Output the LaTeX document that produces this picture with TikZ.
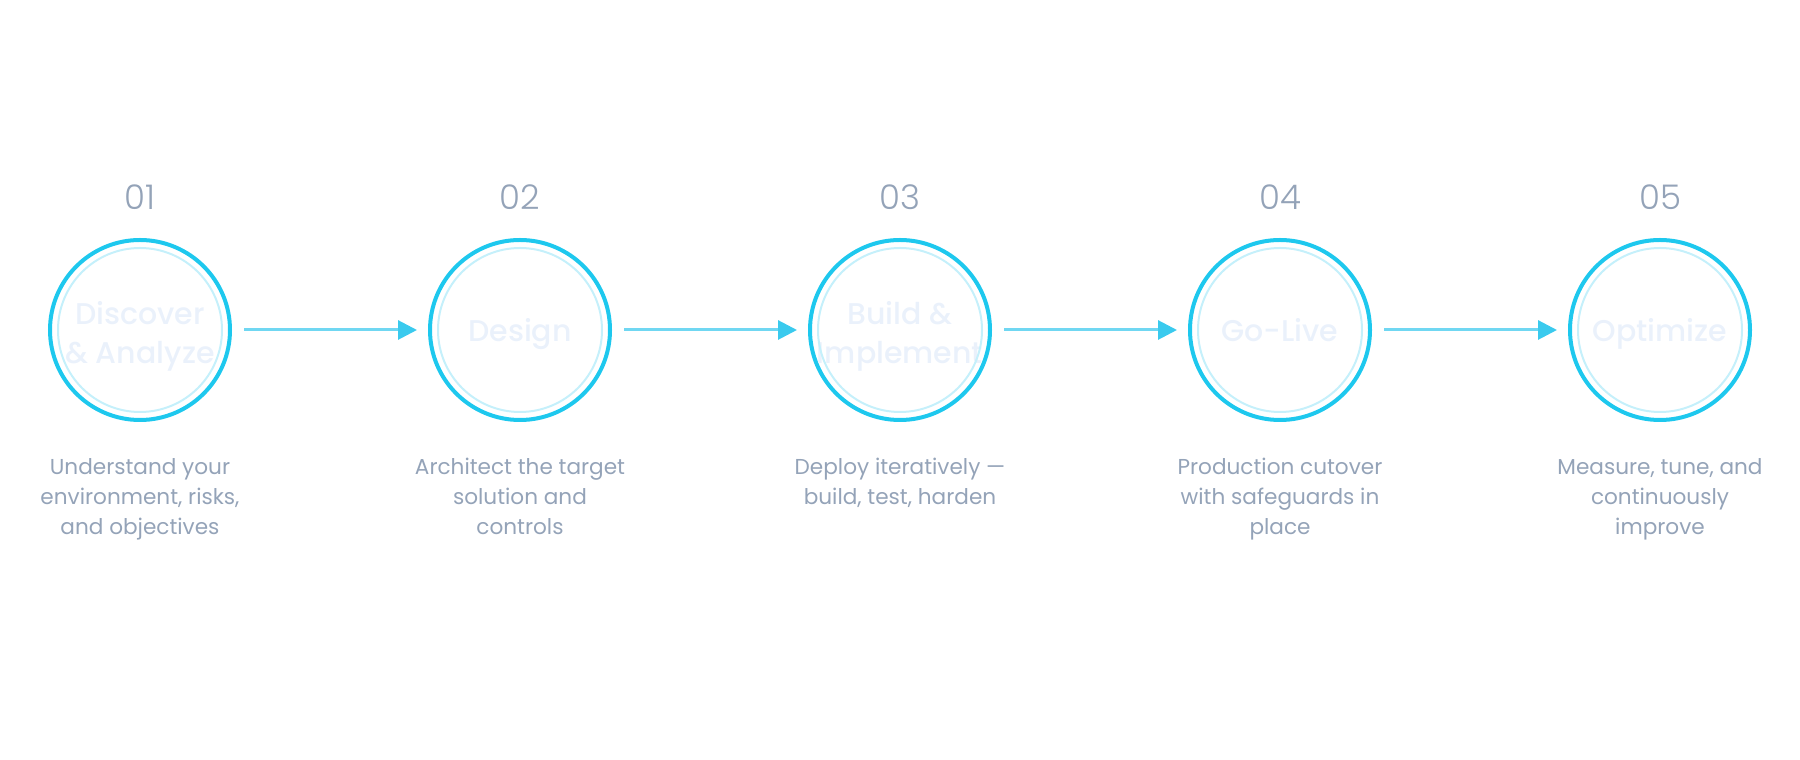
\documentclass[tikz,border=0pt]{standalone}
\usepackage{fontspec}
\setmainfont{Poppins}
\newfontfamily\numfont{Poppins Light}
\newfontfamily\labfont{Poppins Medium}
\usetikzlibrary{arrows.meta}
\definecolor{ringmain}{HTML}{1EC8EE}
\definecolor{ringinner}{HTML}{C5F0FB}
\definecolor{arrline}{HTML}{70D7F2}
\definecolor{arrhead}{HTML}{3ACAEE}
\definecolor{graytext}{HTML}{94A3B8}
\definecolor{labtext}{HTML}{EAF1FB}
\tikzset{
  stage/.style={circle, draw=ringmain, line width=4pt, minimum size=180pt, inner sep=0pt,
    font=\labfont\fontsize{30}{39}\selectfont, text=labtext, align=center, text depth=0pt},
  twoline/.style={label={[font=\labfont\fontsize{30}{39}\selectfont, text=labtext, align=center, text depth=0pt, inner sep=0pt, yshift=-2.5pt]center:#1}},
  innerring/.style={draw=ringinner, line width=2pt},
  stepnum/.style={font=\numfont\fontsize{34}{40}\selectfont, text=graytext, inner sep=0pt},
  desc/.style={font=\fontsize{21.6}{30}\selectfont, text=graytext, align=center, anchor=north, inner sep=0pt},
  flow/.style={arrline, line width=3pt, shorten <=12pt, shorten >=11pt,
    -{Triangle[length=19pt,width=19pt,color=arrhead]}}
}
\begin{document}
\begin{tikzpicture}[x=1pt,y=1pt]
\useasboundingbox (0,0) rectangle (1800,760);
% stages
\node[stage, twoline={Discover\\\& Analyze}] (c1) at (140,430) {};
\node[stage] (c2) at (520,430) {Design};
\node[stage, twoline={Build \&\\Implement}] (c3) at (900,430) {};
\node[stage] (c4) at (1280,430) {Go-Live};
\node[stage] (c5) at (1660,430) {Optimize};
\foreach \c in {c1,c2,c3,c4,c5}{\draw[innerring] (\c.center) circle (82pt);}
% numbers
\node[stepnum] (n1) at (140,563) {01};
\node[stepnum] (n2) at (520,563) {02};
\node[stepnum] (n3) at (900,563) {03};
\node[stepnum] (n4) at (1280,563) {04};
\node[stepnum] (n5) at (1660,563) {05};
% descriptions
\node[desc] (d1) at (140,302) {Understand your\\environment, risks,\\and objectives};
\node[desc] (d2) at (520,302) {Architect the target\\solution and\\controls};
\node[desc] (d3) at (900,302) {Deploy iteratively —\\build, test, harden};
\node[desc] (d4) at (1280,302) {Production cutover\\with safeguards in\\place};
\node[desc] (d5) at (1660,302) {Measure, tune, and\\continuously\\improve};
% arrows
\draw[flow] (c1) -- (c2);
\draw[flow] (c2) -- (c3);
\draw[flow] (c3) -- (c4);
\draw[flow] (c4) -- (c5);
\end{tikzpicture}
\end{document}
